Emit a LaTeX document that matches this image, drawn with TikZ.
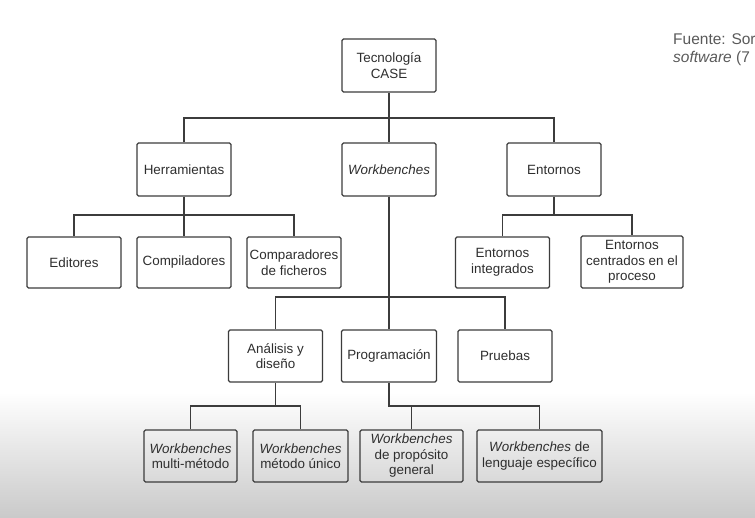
\documentclass[tikz,border=0pt]{standalone}
\usepackage{fontspec}
\setmainfont{Liberation Sans}
\definecolor{linec}{HTML}{3C3C3C}
\definecolor{txtc}{HTML}{2E2E2E}
\definecolor{srcc}{HTML}{5A5A5A}
\begin{document}
\begin{tikzpicture}[x=1pt,y=-1pt,
  box/.style={draw=linec, line width=1.3pt, rounded corners=1.5pt, align=center,
    text=txtc, font=\fontsize{13.4}{15.5}\selectfont, inner sep=0pt,
    minimum width=94pt, minimum height=52pt},
  conn/.style={draw=linec, line width=1.3pt},
  src/.style={anchor=base west, text=srcc, font=\fontsize{15.5}{17}\selectfont, inner sep=0pt}]
\useasboundingbox (0,0) rectangle (755,518);
\fill[white] (0,0) rectangle (755,518);
\shade[top color=white, bottom color=black!21] (0,392) rectangle (755,518);

% nodes
\node[box, minimum height=53pt] (case) at (389,65.5) {Tecnología\\CASE};
\node[box, minimum height=53pt] (herr) at (184,169.5) {Herramientas};
\node[box, minimum height=53pt] (wb) at (389,169.5) {\textit{Workbenches}};
\node[box, minimum height=53pt] (ent) at (554,169.5) {Entornos};

\node[box, minimum height=51pt] (edit) at (74,262.5) {Editores};
\node[box, minimum height=51pt] (comp) at (184,262.5) {Compiladores};
\node[box, minimum height=51pt] (compar) at (294,262.5) {Comparadores\\de ficheros};
\node[box, minimum height=51pt] (entint) at (502.5,262.5) {Entornos\\integrados};
\node[box, minimum height=52pt, minimum width=102pt] (entcen) at (632,262) {Entornos\\centrados en el\\proceso};

\node[box] (anal) at (275.5,356) {Análisis y\\diseño};
\node[box, minimum width=95pt] (prog) at (389,356) {Programación};
\node[box] (prue) at (505,356) {Pruebas};

\node[box, minimum width=93pt] (wba) at (190.5,456) {\textit{Workbenches}\\multi-método};
\node[box, minimum width=95pt] (wbb) at (300.5,456) {\textit{Workbenches}\\método único};
\node[box, minimum width=103pt] (wbc) at (411.5,456) {\textit{Workbenches}\\de propósito\\general};
\node[box, minimum width=125pt] (wbd) at (539.5,456) {\textit{Workbenches} de\\lenguaje específico};

\node[src] (src1) at (673,45) {Fuente: Sor};
\node[src] (src2) at (673,63) {\textit{software} (7};

% junctions
\coordinate (j1) at (389,118);
\coordinate (j2) at (184,215);
\coordinate (j3) at (389,297);
\coordinate (j4) at (554,215);
\coordinate (j5) at (275.5,406);
\coordinate (j6) at (389,406);

% connectors
\draw[conn] (herr.north) |- (j1) -| (ent.north);
\draw[conn] (case.south) -- (j1) -- (wb.north);
\draw[conn] (edit.north) |- (j2) -| (compar.north);
\draw[conn] (herr.south) -- (j2) -- (comp.north);
\draw[conn] (entint.north) |- (j4) -| (entcen.north);
\draw[conn] (ent.south) -- (j4);
\draw[conn] (anal.north) |- (j3) -| (prue.north);
\draw[conn] (wb.south) -- (j3) -- (prog.north);
\draw[conn] (wba.north) |- (j5) -| (wbb.north);
\draw[conn] (anal.south) -- (j5);
\draw[conn] (prog.south) -- (j6) -| (wbd.north);
\draw[conn] (wbc.north) -- (wbc.north |- j6);
\end{tikzpicture}
\end{document}
